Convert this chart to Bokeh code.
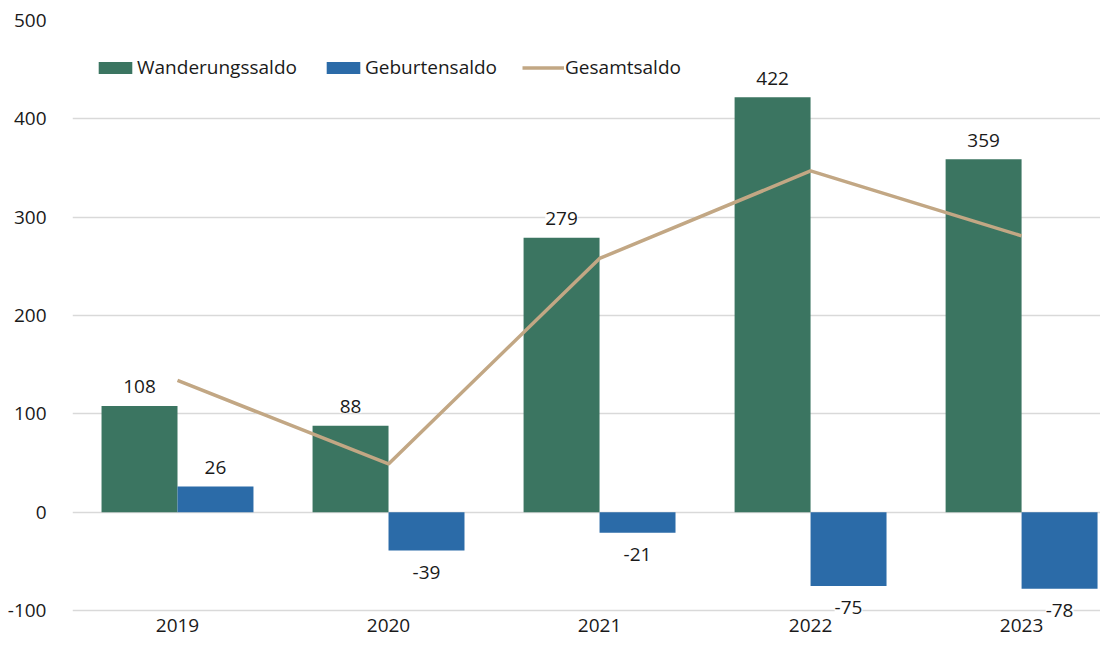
from bokeh.plotting import figure
from bokeh.models import Range1d, FixedTicker, ColumnDataSource, LabelSet, Legend, LegendItem
from bokeh.core.properties import value
from bokeh.transform import dodge
from bokeh.embed import file_html
from bokeh.resources import INLINE

years = ["2019", "2020", "2021", "2022", "2023"]
wanderungssaldo = [108, 88, 279, 422, 359]
geburtensaldo = [26, -39, -21, -75, -78]
gesamtsaldo = [134, 49, 258, 347, 281]
y_ticks = [-100, 0, 100, 200, 300, 400, 500]

FONT = "Open Sans"
FS = "19px"
TXT = "#1a1a1a"
GREEN = "#3b7561"
BLUE = "#2b6ba8"
TAN = "#c2a784"
BW = 0.36

idx = list(range(len(years)))

def offs(vals):
    return [19 if v >= 0 else -22 for v in vals]

src = ColumnDataSource(dict(
    x=idx,
    w=wanderungssaldo,
    g=geburtensaldo,
    t=gesamtsaldo,
    w_lab=[str(v) for v in wanderungssaldo],
    g_lab=[str(v) for v in geburtensaldo],
    w_off=offs(wanderungssaldo),
    g_off=offs(geburtensaldo),
    year=years,
    base=[y_ticks[0]] * len(years),
))

p = figure(width=1100, height=640, output_backend="svg", toolbar_location=None,
           x_range=Range1d(-0.4976, 4.374), y_range=Range1d(-130.5, 500),
           min_border_left=72, min_border_right=0, min_border_top=20, min_border_bottom=0)
p.outline_line_color = None
p.background_fill_color = "white"
p.border_fill_color = "white"

p.xgrid.grid_line_color = None
p.ygrid.grid_line_color = "#d9d9d9"
p.ygrid.grid_line_width = 1.5

r_w = p.vbar(x=dodge("x", -BW / 2), top="w", bottom=0, width=BW, source=src,
             fill_color=GREEN, line_color=None)
r_g = p.vbar(x=dodge("x", BW / 2), top="g", bottom=0, width=BW, source=src,
             fill_color=BLUE, line_color=None)
r_t = p.line(x="x", y="t", source=src, line_color=TAN, line_width=3.5)

for lab, col, off, dx in (("w_lab", "w", "w_off", -BW / 2), ("g_lab", "g", "g_off", BW / 2)):
    ls = LabelSet(x=dodge("x", dx), y=col, text=lab, y_offset=off, source=src,
                  text_align="center", text_baseline="middle",
                  text_font=value(FONT), text_font_size=FS, text_color=TXT,
                  background_fill_color="white")
    p.add_layout(ls)

# category (year) labels under the -100 line
year_labels = LabelSet(x="x", y="base", text="year", y_offset=-15, source=src,
                       text_align="center", text_baseline="middle",
                       text_font=value(FONT), text_font_size=FS, text_color=TXT)
p.add_layout(year_labels)

p.xaxis.visible = False
p.yaxis.ticker = FixedTicker(ticks=y_ticks)
p.yaxis.major_label_overrides = {t: str(t) for t in y_ticks}
p.yaxis.axis_line_color = None
p.yaxis.major_tick_line_color = None
p.yaxis.minor_tick_line_color = None
p.yaxis.major_label_text_font = FONT
p.yaxis.major_label_text_font_size = FS
p.yaxis.major_label_text_color = TXT
p.yaxis.major_label_standoff = 20

legend = Legend(items=[
    LegendItem(label="Wanderungssaldo", renderers=[r_w]),
    LegendItem(label="Geburtensaldo", renderers=[r_g]),
    LegendItem(label="Gesamtsaldo", renderers=[r_t]),
], orientation="horizontal", location=(22, 560),
    glyph_width=42, glyph_height=15, label_standoff=1, spacing=25,
    padding=0, margin=0, border_line_color=None, background_fill_alpha=0,
    label_text_font=FONT, label_text_font_size=FS, label_text_color=TXT)
p.add_layout(legend)

open("out.html", "w").write(file_html(p, INLINE))
